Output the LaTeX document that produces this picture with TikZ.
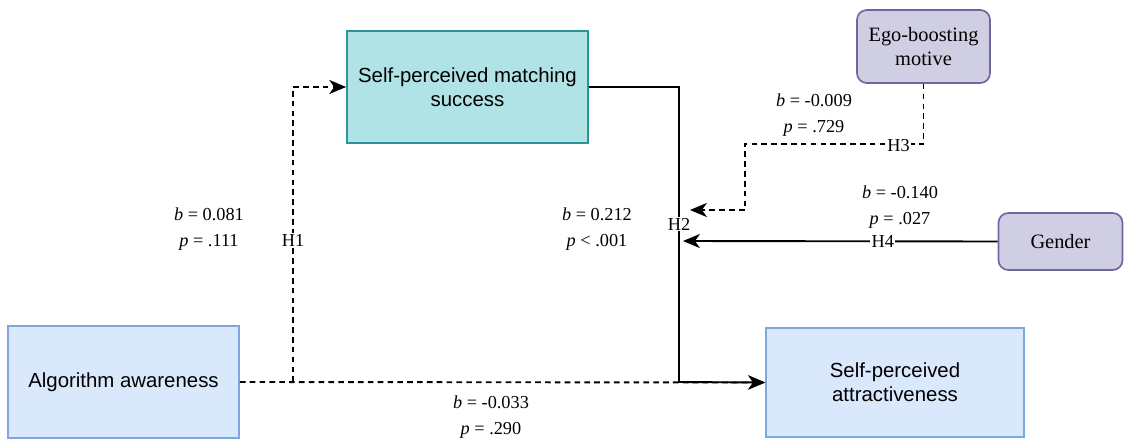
\documentclass[tikz,border=0pt]{standalone}
\usepackage{fontspec}
\setmainfont{Liberation Serif}
\setsansfont{Liberation Sans}
\usepackage{tikz}
\usetikzlibrary{arrows.meta}
\definecolor{Blue-fill}{HTML}{DAE8FC}
\definecolor{Blue-line}{HTML}{7EA6E0}
\definecolor{Teal-fill}{HTML}{B0E3E6}
\definecolor{Teal-line}{HTML}{2E9299}
\definecolor{Purple-fill}{HTML}{D0CEE2}
\definecolor{Purple-line}{HTML}{6F68A0}
\tikzset{ var/.style  ={draw=Blue-line,   line width=1.2pt, fill=Blue-fill,   text=black, align=center, font=\sffamily\fontsize{14.5}{17}\selectfont} }
\tikzset{ med/.style  ={draw=Teal-line,   line width=1.2pt, fill=Teal-fill,   text=black, align=center, font=\sffamily\fontsize{14.5}{17}\selectfont} }
\tikzset{ mod/.style  ={draw=Purple-line, line width=1.2pt, fill=Purple-fill, text=black, align=center, rounded corners=7pt, font=\rmfamily\fontsize{14.5}{17}\selectfont} }
\tikzset{ coef/.style ={align=center, font=\rmfamily\fontsize{13}{18}\selectfont} }
\tikzset{ hyp/.style  ={fill=white, inner sep=1pt, font=\rmfamily\fontsize{13}{15}\selectfont} }
\tikzset{ link/.style ={line width=1.35pt, -{Stealth[length=12pt,width=10pt,inset=3.5pt]}} }
\tikzset{ dlink/.style={link, dash pattern=on 4pt off 3pt} }

\begin{document}
\begin{tikzpicture}[x=0.025cm, y=-0.025cm]
    \useasboundingbox (0,0) rectangle (1124,441);

    \node[var, minimum width=5.775cm, minimum height=2.8cm]   (aware)   at ( 123.5, 382.0) {Algorithm awareness};
    \node[med, minimum width=6.025cm, minimum height=2.8cm]   (match)   at ( 467.5,  87.0) {Self-perceived matching\\success};
    \node[var, minimum width=6.45cm,  minimum height=2.725cm] (attract) at ( 895.0, 382.5) {Self-perceived\\attractiveness};
    \node[mod, minimum width=3.325cm, minimum height=1.825cm] (ego)     at ( 923.5,  46.5) {Ego-boosting\\motive};
    \node[mod, minimum width=3.1cm,   minimum height=1.425cm] (gender)  at (1060.5, 241.5) {Gender};

    \coordinate (h1_base) at (293, 382);
    \coordinate (h2_bend) at (679, 382);
    \coordinate (h3_bend) at (745, 144);
    \coordinate (h3_end)  at (690, 210);
    \coordinate (h4_end)  at (683, 241);

    % direct path and H1
    \draw[dlink] (aware.east) -- (attract.west);
    \draw[dlink] (h1_base) |- node[hyp, pos=0.24] {H1} (match.west);

    % H2
    \draw[link] (match.east) -| (h2_bend) -- (attract.west);
    \node[hyp] (h2_lab) at (679, 224) {H2};

    % moderators
    \draw[dlink] (ego.south) |- node[hyp, pos=0.57, yshift=-1pt] {H3} (h3_bend) |- (h3_end);
    \draw[link] (gender.west) -- node[hyp, pos=0.365] {H4} (h4_end);

    \node[coef] (c_h1)  at (209, 229) {\textit{b} = 0.081\\\textit{p} = .111};
    \node[coef] (c_h2)  at (597, 229) {\textit{b} = 0.212\\\textit{p} < .001};
    \node[coef] (c_h3)  at (814, 115) {\textit{b} = -0.009\\\textit{p} = .729};
    \node[coef] (c_h4)  at (900, 207) {\textit{b} = -0.140\\\textit{p} = .027};
    \node[coef] (c_dir) at (491, 417) {\textit{b} = -0.033\\\textit{p} = .290};
\end{tikzpicture}
\end{document}
